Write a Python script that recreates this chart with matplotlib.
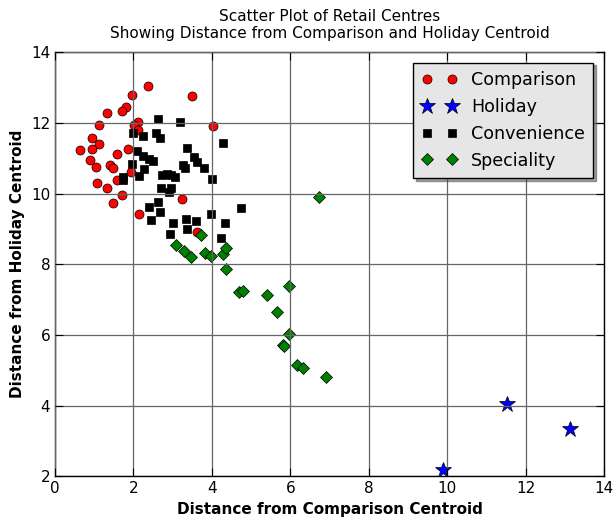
import matplotlib
matplotlib.use("Agg")
import matplotlib.pyplot as plt

# Comparison centres
comp_x = [2.36, 1.96, 3.49, 1.81, 1.70, 1.33, 2.11, 1.11, 2.02, 4.03, 2.11, 0.94, 1.13, 0.65, 0.95,
          1.85, 1.58, 0.88, 1.05, 1.41, 1.49, 1.94, 1.57, 1.06, 1.32, 1.70, 3.24, 1.48, 2.14, 3.61]
comp_y = [13.05, 12.80, 12.76, 12.46, 12.33, 12.29, 12.03, 11.95, 11.94, 11.92, 11.80, 11.58, 11.41, 11.24, 11.26,
          11.25, 11.12, 10.95, 10.74, 10.81, 10.72, 10.61, 10.39, 10.29, 10.16, 9.97, 9.85, 9.72, 9.41, 8.92]

# Holiday centres
hol_x = [9.89, 11.54, 13.14]
hol_y = [2.17, 4.04, 3.34]

# Convenience centres
conv_x = [2.62, 3.20, 1.98, 2.25, 2.58, 2.68, 4.29, 3.36, 2.10, 2.25, 2.39, 2.51, 3.55, 3.61, 3.27,
          3.32, 3.80, 1.96, 2.28, 1.73, 1.73, 2.15, 2.72, 2.85, 2.96, 3.06, 4.01, 2.70, 2.96, 2.91,
          2.62, 2.39, 2.68, 4.74, 3.99, 2.45, 3.02, 3.33, 3.59, 4.34, 3.37, 2.94, 4.24]
conv_y = [12.11, 12.02, 11.72, 11.63, 11.72, 11.58, 11.44, 11.30, 11.21, 11.06, 10.98, 10.92, 11.02, 10.90, 10.81,
          10.72, 10.72, 10.84, 10.69, 10.48, 10.37, 10.51, 10.53, 10.56, 10.53, 10.47, 10.41, 10.15, 10.17, 10.03,
          9.75, 9.63, 9.48, 9.60, 9.41, 9.24, 9.16, 9.27, 9.21, 9.16, 8.99, 8.86, 8.75]

# Speciality centres
spec_x = [6.74, 3.72, 3.09, 3.30, 3.48, 3.83, 3.97, 4.28, 4.36, 4.37, 4.69, 4.79, 5.41, 5.98, 5.65,
          5.96, 5.82, 5.83, 6.18, 6.32, 6.90]
spec_y = [9.91, 8.83, 8.55, 8.38, 8.21, 8.31, 8.22, 8.29, 8.45, 7.88, 7.23, 7.25, 7.14, 7.38, 6.66,
          6.04, 5.72, 5.68, 5.14, 5.08, 4.82]

fig = plt.figure(figsize=(6.14, 5.21), dpi=100)
ax = fig.add_axes([0.0896, 0.0855, 0.894, 0.8145])

ax.plot(comp_x, comp_y, 'o', color='red', markeredgecolor='black', markeredgewidth=0.5,
        markersize=6.5, label='Comparison')
ax.plot(hol_x, hol_y, '*', color='blue', markeredgecolor='black', markeredgewidth=0.5,
        markersize=12, label='Holiday')
ax.plot(conv_x, conv_y, 's', color='black', markeredgecolor='black', markeredgewidth=0.5,
        markersize=6, label='Convenience')
ax.plot(spec_x, spec_y, 'D', color='green', markeredgecolor='black', markeredgewidth=0.5,
        markersize=6, label='Speciality')

ax.set_xlim(0, 14)
ax.set_ylim(2, 14)
ax.set_xticks(range(0, 15, 2))
ax.set_yticks(range(2, 15, 2))
ax.tick_params(direction='in', top=True, right=True, labelsize=11, length=6)
# grid drawn over the markers, like the old default style
ax.grid(True, color='0.4', linestyle='-', linewidth=0.9)
ax.set_axisbelow(False)
for s in ax.spines.values():
    s.set_linewidth(1.0)

ax.set_title("Scatter Plot of Retail Centres\nShowing Distance from Comparison and Holiday Centroid",
             fontsize=11, pad=10)
ax.set_xlabel("Distance from Comparison Centroid", fontsize=11, fontweight='bold')
ax.set_ylabel("Distance from Holiday Centroid", fontsize=11, fontweight='bold')

leg = ax.legend(loc='upper right', numpoints=2, shadow=True, fontsize=12.6, fancybox=False,
                framealpha=1, borderaxespad=0.6, handletextpad=0.8, labelspacing=0.5,
                borderpad=0.5)
leg.get_frame().set_facecolor('0.9')
leg.get_frame().set_edgecolor('black')

fig.savefig("out.png", dpi=100)
